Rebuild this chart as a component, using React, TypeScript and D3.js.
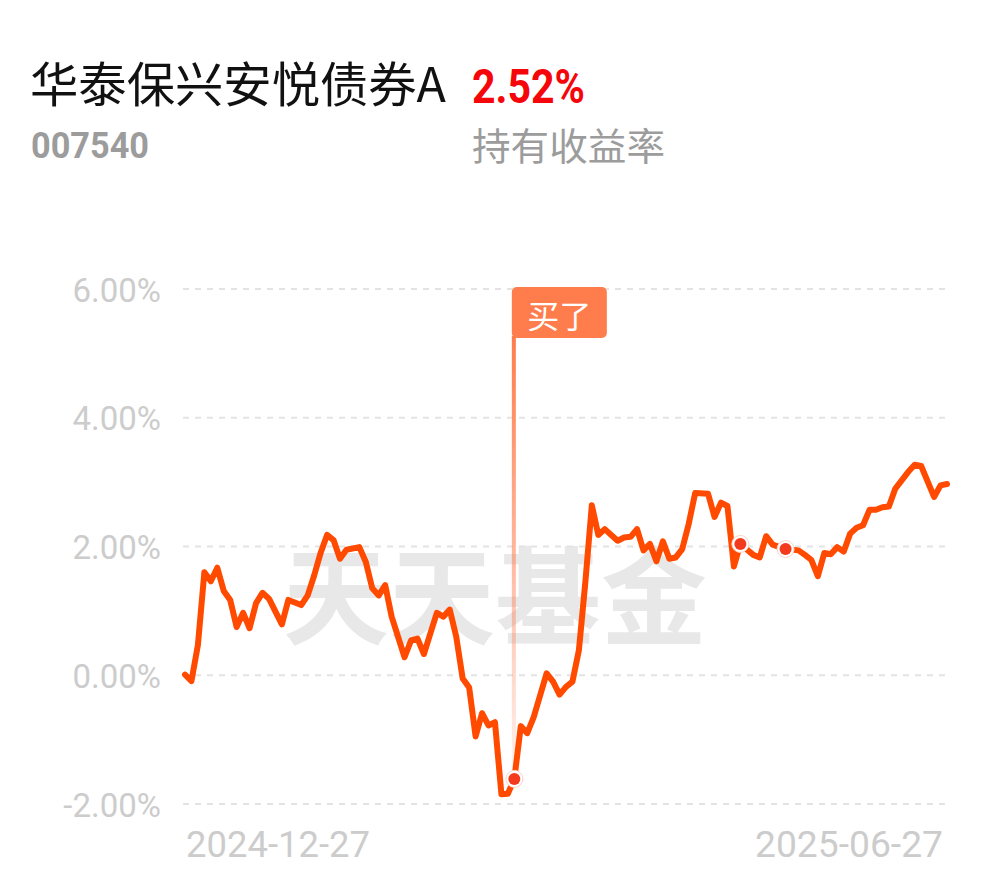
import { useEffect, useRef } from "react";
import * as d3 from "d3";

// holding return (%), by trading-day index (0 = 2024-12-27)
const dayIndex = [
  0, 1, 2, 3, 4, 5, 6, 7, 8, 9, 10, 11, 12, 13, 15, 16, 18, 19, 20, 21, 22, 23, 24, 25, 27, 28, 29, 30,
  31, 32, 34, 35, 36, 37, 38, 39, 40, 41, 42, 43, 44, 45, 46, 47, 48, 49, 50, 51, 52, 53, 54, 56, 57,
  58, 59, 60, 61, 62, 63, 64, 65, 66, 67, 68, 69, 70, 71, 72, 73, 74, 75, 76, 77, 78, 79, 81, 82, 83,
  84, 85, 86, 88, 89, 90, 91, 93, 95, 96, 97, 98, 99, 100, 101, 102, 103, 104, 105, 106, 107, 108,
  109, 110, 112, 113, 114, 116, 117, 118,
];
const holdingReturn = [
  0.01, -0.09, 0.47, 1.6, 1.46, 1.67, 1.31, 1.17, 0.75, 0.97, 0.73, 1.12, 1.28, 1.19, 0.79, 1.17, 1.09,
  1.24, 1.55, 1.9, 2.18, 2.1, 1.81, 1.95, 1.99, 1.76, 1.35, 1.24, 1.4, 0.91, 0.28, 0.54, 0.57, 0.33,
  0.65, 0.97, 0.91, 1.02, 0.6, -0.05, -0.19, -0.95, -0.59, -0.78, -0.73, -1.85, -1.84, -1.61, -0.79,
  -0.9, -0.65, 0.03, -0.1, -0.3, -0.18, -0.1, 0.39, 1.45, 2.64, 2.18, 2.27, 2.18, 2.09, 2.14, 2.15,
  2.27, 1.94, 2.04, 1.77, 2.08, 1.81, 1.83, 1.96, 2.35, 2.83, 2.82, 2.46, 2.68, 2.63, 1.69, 2.04, 1.87,
  1.83, 2.16, 2.03, 1.96, 1.94, 1.87, 1.79, 1.54, 1.9, 1.88, 1.99, 1.92, 2.2, 2.29, 2.33, 2.57, 2.57,
  2.61, 2.62, 2.9, 3.16, 3.27, 3.25, 2.77, 2.95, 2.97,
];
const totalDays = 119;
const buyDay = 51;
const markerDays = [51, 86, 93];
const yTicks = [-2, 0, 2, 4, 6];
const xLabels = ["2024-12-27", "2025-06-27"];

const fundName = "华泰保兴安悦债券A";
const fundCode = "007540";
const returnText = "2.52%";
const returnLabel = "持有收益率";
const buyText = "买了";
const watermark = "天天基金";

interface Pt {
  day: number;
  value: number;
}

export default function App() {
  const ref = useRef<SVGSVGElement | null>(null);

  useEffect(() => {
    if (!ref.current) return;

    const width = 990;
    const height = 878;
    const margin = { left: 185, right: 43, top: 289, bottom: 74 };
    const cjk = "'Noto Sans CJK SC', 'Noto Sans', sans-serif";
    const num = "Roboto, 'Noto Sans', sans-serif";

    const svg = d3.select(ref.current).attr("width", width).attr("height", height);
    svg.selectAll("*").remove();

    const data: Pt[] = dayIndex.map((d, i) => ({ day: d, value: holdingReturn[i] }));

    /* ---------------- HEADER ---------------- */

    svg.append("text")
      .attr("x", 30).attr("y", 102)
      .attr("font-family", cjk).attr("font-size", 48)
      .attr("textLength", 416).attr("lengthAdjust", "spacingAndGlyphs")
      .attr("fill", "#111")
      .text(fundName);

    svg.append("text")
      .attr("x", 472).attr("y", 103)
      .attr("font-family", num).attr("font-size", 48).attr("font-weight", 700)
      .attr("textLength", 113).attr("lengthAdjust", "spacingAndGlyphs")
      .attr("fill", "#f5060a")
      .text(returnText);

    svg.append("text")
      .attr("x", 31).attr("y", 158)
      .attr("font-family", num).attr("font-size", 37).attr("font-weight", 700)
      .attr("textLength", 118).attr("lengthAdjust", "spacingAndGlyphs")
      .attr("fill", "#9c9c9c")
      .text(fundCode);

    svg.append("text")
      .attr("x", 472).attr("y", 160)
      .attr("font-family", cjk).attr("font-size", 38)
      .attr("textLength", 193).attr("lengthAdjust", "spacingAndGlyphs")
      .attr("fill", "#9c9c9c")
      .text(returnLabel);

    /* ---------------- SCALES ---------------- */

    const x = d3.scaleLinear()
      .domain([0, totalDays - 1])
      .range([margin.left, width - margin.right]);

    const y = d3.scaleLinear()
      .domain([-2, 6])
      .range([height - margin.bottom, margin.top]);

    /* ---------------- WATERMARK ---------------- */

    svg.append("text")
      .attr("x", 495).attr("y", 590)
      .attr("text-anchor", "middle").attr("dominant-baseline", "central")
      .attr("font-family", cjk).attr("font-size", 106).attr("font-weight", 700)
      .attr("fill", "#e8e8e8")
      .text(watermark);

    /* ---------------- GRID + Y LABELS ---------------- */

    const grid = svg.append("g");
    grid.selectAll("line")
      .data(yTicks)
      .enter()
      .append("line")
      .attr("x1", margin.left - 2)
      .attr("x2", width - margin.right + 1)
      .attr("y1", d => y(d))
      .attr("y2", d => y(d))
      .attr("stroke", "#e3e3e3")
      .attr("stroke-width", 2)
      .attr("stroke-dasharray", "6 6");

    grid.selectAll("text")
      .data(yTicks)
      .enter()
      .append("text")
      .attr("x", 161)
      .attr("y", d => y(d) + 1)
      .attr("text-anchor", "end")
      .attr("dominant-baseline", "central")
      .attr("font-family", num)
      .attr("font-size", 33)
      .attr("fill", "#cccccc")
      .text(d => `${d.toFixed(2)}%`);

    /* ---------------- X LABELS ---------------- */

    svg.append("text")
      .attr("x", x(0) + 1).attr("y", 857)
      .attr("font-family", num).attr("font-size", 36)
      .attr("textLength", 184).attr("lengthAdjust", "spacingAndGlyphs")
      .attr("fill", "#cccccc")
      .text(xLabels[0]);

    svg.append("text")
      .attr("x", x(totalDays - 1) - 192).attr("y", 857)
      .attr("font-family", num).attr("font-size", 36)
      .attr("textLength", 188).attr("lengthAdjust", "spacingAndGlyphs")
      .attr("fill", "#cccccc")
      .text(xLabels[1]);

    /* ---------------- BUY FLAG ---------------- */

    const buy = data.find(d => d.day === buyDay)!;
    const grad = svg.append("defs").append("linearGradient")
      .attr("id", "buyGrad")
      .attr("x1", 0).attr("y1", 0).attr("x2", 0).attr("y2", 1);
    grad.append("stop").attr("offset", "0%").attr("stop-color", "#ff7c4c").attr("stop-opacity", 1);
    grad.append("stop").attr("offset", "100%").attr("stop-color", "#ff7c4c").attr("stop-opacity", 0.08);

    const flagTop = 287;
    const flagH = 51;
    svg.append("rect")
      .attr("x", x(buyDay) - 2.5)
      .attr("y", flagTop + flagH - 2)
      .attr("width", 4)
      .attr("height", y(buy.value) - flagTop - flagH + 2)
      .attr("fill", "url(#buyGrad)");

    svg.append("rect")
      .attr("x", x(buyDay) - 2.5)
      .attr("y", flagTop)
      .attr("width", 95)
      .attr("height", flagH)
      .attr("rx", 5)
      .attr("fill", "#ff7c4c");

    svg.append("text")
      .attr("x", x(buyDay) + 45).attr("y", flagTop + flagH / 2 + 1)
      .attr("text-anchor", "middle").attr("dominant-baseline", "central")
      .attr("font-family", cjk).attr("font-size", 32)
      .attr("fill", "#fff")
      .text(buyText);

    /* ---------------- LINE ---------------- */

    const line = d3.line<Pt>()
      .x(d => x(d.day))
      .y(d => y(d.value));

    svg.append("path")
      .datum(data)
      .attr("fill", "none")
      .attr("stroke", "#ff4a00")
      .attr("stroke-width", 6)
      .attr("stroke-linejoin", "round")
      .attr("stroke-linecap", "round")
      .attr("d", line);

    /* ---------------- DOTS ---------------- */

    const dots = data.filter(d => markerDays.includes(d.day));
    svg.selectAll(".halo")
      .data(dots)
      .enter()
      .append("circle")
      .attr("cx", d => x(d.day))
      .attr("cy", d => y(d.value))
      .attr("r", 8.5)
      .attr("fill", "#fff")
      .attr("stroke", "#fbd3c8")
      .attr("stroke-width", 1);

    svg.selectAll(".dot")
      .data(dots)
      .enter()
      .append("circle")
      .attr("cx", d => x(d.day))
      .attr("cy", d => y(d.value))
      .attr("r", 6)
      .attr("fill", "#f43a1c");
  }, []);

  return (
    <div style={{ position: "absolute", left: 0, top: 0, background: "#fff" }}>
      <svg ref={ref} style={{ display: "block" }} />
    </div>
  );
}
